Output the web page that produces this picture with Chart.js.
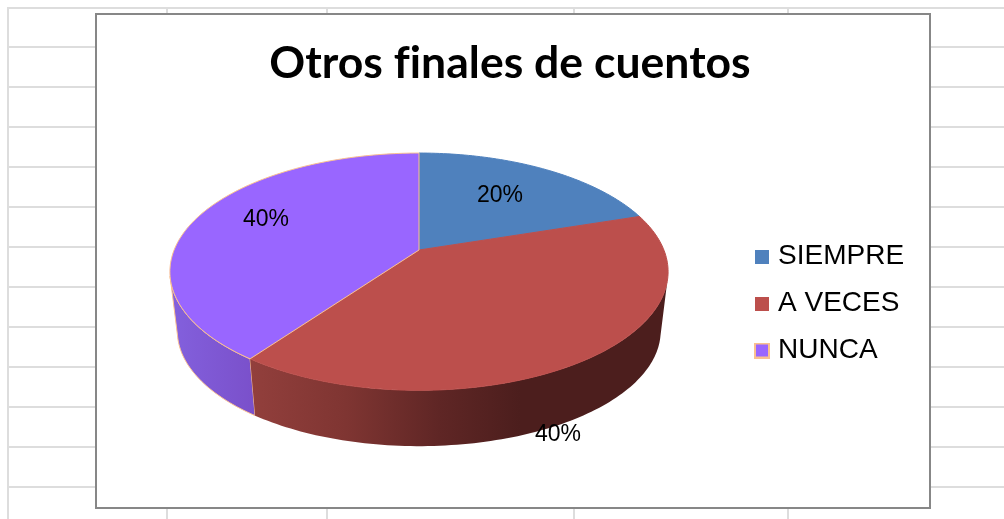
<!DOCTYPE html>
<html><head><meta charset="utf-8">
<style>
html,body{margin:0;padding:0;background:#fff;overflow:hidden}
#page{position:relative;width:1004px;height:519px;overflow:hidden}
.g{position:absolute;background:#dddddd}
#box{position:absolute;left:95px;top:13px;width:832px;height:492px;background:#fff;border:2px solid #878787}
canvas{position:absolute;left:0;top:0}
</style></head><body>
<div id="page"><div id="box"></div><canvas id="c" width="1004" height="519"></canvas></div>
<script src="https://cdn.jsdelivr.net/npm/chart.js@4/dist/chart.umd.js"></script>
<script>
const titleText = "Otros finales de cuentos";
const categories = ["SIEMPRE", "A VECES", "NUNCA"];
const seriesValues = [20, 40, 40];
const sliceColors = ["#4F81BD", "#BC4F4C", "#9966FF"];
const sliceBorders = ["#4F81BD", "#BC4F4C", "#FAC090"];
const legendBorderWidths = [0, 0, 2];

// spreadsheet grid behind the chart
const page = document.getElementById("page"), box = document.getElementById("box");
const gridRows = [7,47,87,127,167,207,247,287,327,367,407,447,487];
const gridCols = [7,166,326,573,787];
gridRows.forEach(y=>{const d=document.createElement("div");d.className="g";d.style.cssText=`left:7px;top:${y-(y==7?0:1)}px;width:997px;height:2px`;page.insertBefore(d,box);});
gridCols.forEach(x=>{const d=document.createElement("div");d.className="g";d.style.cssText=`left:${x}px;top:7px;width:2px;height:512px`;page.insertBefore(d,box);});

// perspective projection of the pie's unit circle on the page
const TOP = {cx:419, cy:250, rx:252, ry:118};
const BOT = {cx:419, cy:310, rx:244.5, ry:114.5};
const PA = 1.029, PB = 0.188;
function proj(f, ang, r=1){
  const x = r*Math.cos(ang), y = r*Math.sin(ang), w = PA - PB*y;
  return [f.cx + f.rx*x/w, f.cy + f.ry*y/w];
}
function rim(ctx, f, a0, a1, move){
  const n = Math.max(2, Math.ceil(Math.abs(a1-a0)/0.02));
  for(let i=0;i<=n;i++){
    const p = proj(f, a0+(a1-a0)*i/n);
    if(i===0 && move) ctx.moveTo(p[0],p[1]); else ctx.lineTo(p[0],p[1]);
  }
}
Chart.elements.ArcElement.prototype.draw = function(ctx){
  const o = this.options;
  ctx.save();
  ctx.beginPath();
  const c = proj(TOP, 0, 0);
  ctx.moveTo(c[0], c[1]);
  rim(ctx, TOP, this.startAngle, this.endAngle, false);
  ctx.closePath();
  ctx.fillStyle = o.backgroundColor;
  ctx.fill();
  ctx.lineWidth = 1;
  ctx.lineJoin = "round";
  ctx.strokeStyle = o.borderColor;
  ctx.stroke();
  ctx.restore();
};

const wallPlugin = {
  id:"wall",
  beforeDraw(chart){ chart.ctx.letterSpacing = "0.02px"; }, // no "fi" ligature in the title
  beforeDatasetsDraw(chart){
    const ctx = chart.ctx, arcs = chart.getDatasetMeta(0).data;
    const lo = Math.PI*0.5 - 1.35, hi = Math.PI*0.5 + 1.35;
    const redG = ctx.createLinearGradient(252,0,520,0);
    redG.addColorStop(0,"#923F3C"); redG.addColorStop(.35,"#7F3532"); redG.addColorStop(.7,"#5F2625"); redG.addColorStop(1,"#4C1E1D");
    const purG = ctx.createLinearGradient(172,0,255,0);
    purG.addColorStop(0,"#8360DD"); purG.addColorStop(1,"#7A50CA");
    const fills = [null, redG, purG];
    [2,1].forEach(i=>{
      const a = arcs[i];
      const s = Math.max(a.startAngle, lo), e = Math.min(a.endAngle, hi);
      if(e<=s) return;
      ctx.save();
      ctx.beginPath();
      rim(ctx, TOP, s, e, true);
      rim(ctx, BOT, e, s, false);
      ctx.closePath();
      ctx.fillStyle = fills[i];
      ctx.fill();
      if(i===2){
        ctx.strokeStyle = sliceBorders[2];
        ctx.lineWidth = 1;
        ctx.stroke();
      }
      ctx.restore();
    });
  }
};

const labelAnchors = [[500,196],[266,220],[558,435]];
const labelPlugin = {
  id:"pct",
  afterDatasetsDraw(chart){
    const ctx = chart.ctx;
    ctx.save();
    ctx.font = '23px "Liberation Sans"';
    ctx.fillStyle = "#000";
    ctx.textAlign = "center";
    ctx.textBaseline = "middle";
    seriesValues.forEach((v,i)=>ctx.fillText(v+"%", labelAnchors[i][0], labelAnchors[i][1]));
    ctx.restore();
  }
};

// legend swatches as small canvases so the swatch-to-text gap can match the reference
function swatch(fill, stroke){
  const size = stroke ? 16 : 14, cv = document.createElement("canvas");
  cv.width = size; cv.height = size;
  const g = cv.getContext("2d");
  if(stroke){ g.fillStyle = stroke; g.fillRect(0,0,size,size); g.fillStyle = fill; g.fillRect(2,2,12,12); }
  else { g.fillStyle = fill; g.fillRect(0,0,size,size); }
  return cv;
}
const swatches = [swatch(sliceColors[0]), swatch(sliceColors[1]), swatch(sliceColors[2],sliceBorders[2])];

new Chart(document.getElementById("c"),{
  type:"pie",
  data:{labels:categories,datasets:[{data:seriesValues,backgroundColor:sliceColors,borderColor:sliceBorders,borderWidth:legendBorderWidths,clip:false}]},
  plugins:[wallPlugin,labelPlugin],
  options:{
    responsive:false,animation:false,
    layout:{padding:{top:34,right:90,bottom:-54,left:106}},
    plugins:{
      tooltip:{enabled:false},
      title:{display:true,text:titleText,color:"#000",font:{family:"Lato",weight:"bold",size:44.5},padding:{top:3,bottom:0},align:"center"},
      legend:{position:"right",align:"center",onClick:null,
        labels:{boxWidth:14,boxHeight:14,padding:19,color:"#000",usePointStyle:true,pointStyleWidth:4,
          font:{family:"Liberation Sans",size:28},
          generateLabels(chart){
            return Chart.overrides.pie.plugins.legend.labels.generateLabels(chart).map((it,i)=>Object.assign(it,{pointStyle:swatches[i]}));
          }}}
    }
  }
});
</script></body></html>
